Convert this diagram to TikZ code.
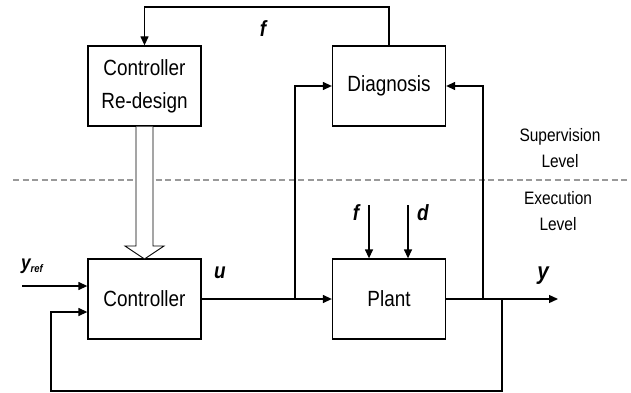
\documentclass[tikz,border=0pt]{standalone}
\usepackage{fontspec}
\setmainfont{Liberation Sans}
\usetikzlibrary{arrows.meta}
\newcommand{\nx}[1]{\scalebox{0.86}[1]{#1}}
\begin{document}
\begin{tikzpicture}[x=1pt,y=-1pt,
  blk/.style={draw,line width=1.3pt,minimum width=113pt,minimum height=80pt,inner sep=0pt,align=center,font=\fontsize{22}{33}\selectfont},
  conn/.style={line width=1.3pt,-{Triangle[length=9pt,width=8pt]}},
  lbl/.style={font=\fontsize{22}{24}\selectfont\bfseries\itshape,inner sep=0pt},
  lvl/.style={font=\fontsize{18}{26}\selectfont,align=center,inner sep=0pt}]
\useasboundingbox (0,0) rectangle (631,393);
\node[blk] (crd) at (144.5,86) {\nx{Controller}\\\nx{Re-design}};
\node[blk] (diag) at (389,86) {\nx{Diagnosis}};
\node[blk] (ctrl) at (144.5,299) {\nx{Controller}};
\node[blk] (plant) at (389,299) {\nx{Plant}};
% top feedback f
\coordinate (tr) at (389,7);
\coordinate (tl) at (144.5,7);
\draw[conn] (diag.north) -- (tr) -- (tl) -- (crd.north);
\node[lbl] (flbl) at (263,29) {\nx{f}};
% dashed separator
\coordinate (dl) at (13,180);
\coordinate (dr) at (627,180);
\draw[gray!80,line width=1.2pt,dash pattern=on 6pt off 3.5pt] (dl) -- (dr);
\node[lvl] (sup) at (560,148) {\nx{Supervision}\\\nx{Level}};
\node[lvl] (exe) at (558,211) {\nx{Execution}\\\nx{Level}};
% hollow arrow
\draw[line width=0.9pt,fill=white] (136,126.6) -- (136,246) -- (125,246) -- (144.5,259) -- (164,246) -- (153,246) -- (153,126.6);
% main signal
\coordinate (bu) at (295,299);
\coordinate (by) at (483,299);
\coordinate (bf) at (502,299);
\coordinate (yend) at (558,299);
\draw[conn] (ctrl.east) -- (plant.west);
\node[lbl] (ulbl) at (220,273) {\nx{u}};
\draw[conn] (bu) -- (bu |- diag.west) -- (diag.west);
\draw[conn] (plant.east) -- (yend);
\node[lbl,font=\fontsize{24}{26}\selectfont\bfseries\itshape] (ylbl) at (543,276) {\nx{y}};
\draw[conn] (by) -- (by |- diag.east) -- (diag.east);
% feedback
\coordinate (fb1) at (502,391);
\coordinate (fb2) at (51,391);
\coordinate (fb3) at (51,312);
\draw[conn] (bf) -- (fb1) -- (fb2) -- (fb3) -- (ctrl.west |- fb3);
% reference
\coordinate (yin) at (22,286);
\draw[conn] (yin) -- (ctrl.west |- yin);
\node[lbl,font=\fontsize{20}{22}\selectfont\bfseries\itshape] (yref) at (32,266) {\nx{y\raisebox{-0.3ex}{\fontsize{11}{12}\selectfont ref}}};
% disturbances
\coordinate (fin) at (369,205);
\coordinate (din) at (408,205);
\draw[conn] (fin) -- (fin |- plant.north);
\draw[conn] (din) -- (din |- plant.north);
\node[lbl] (flbl2) at (356,213) {\nx{f}};
\node[lbl] (dlbl) at (423,213) {\nx{d}};
\end{tikzpicture}
\end{document}
